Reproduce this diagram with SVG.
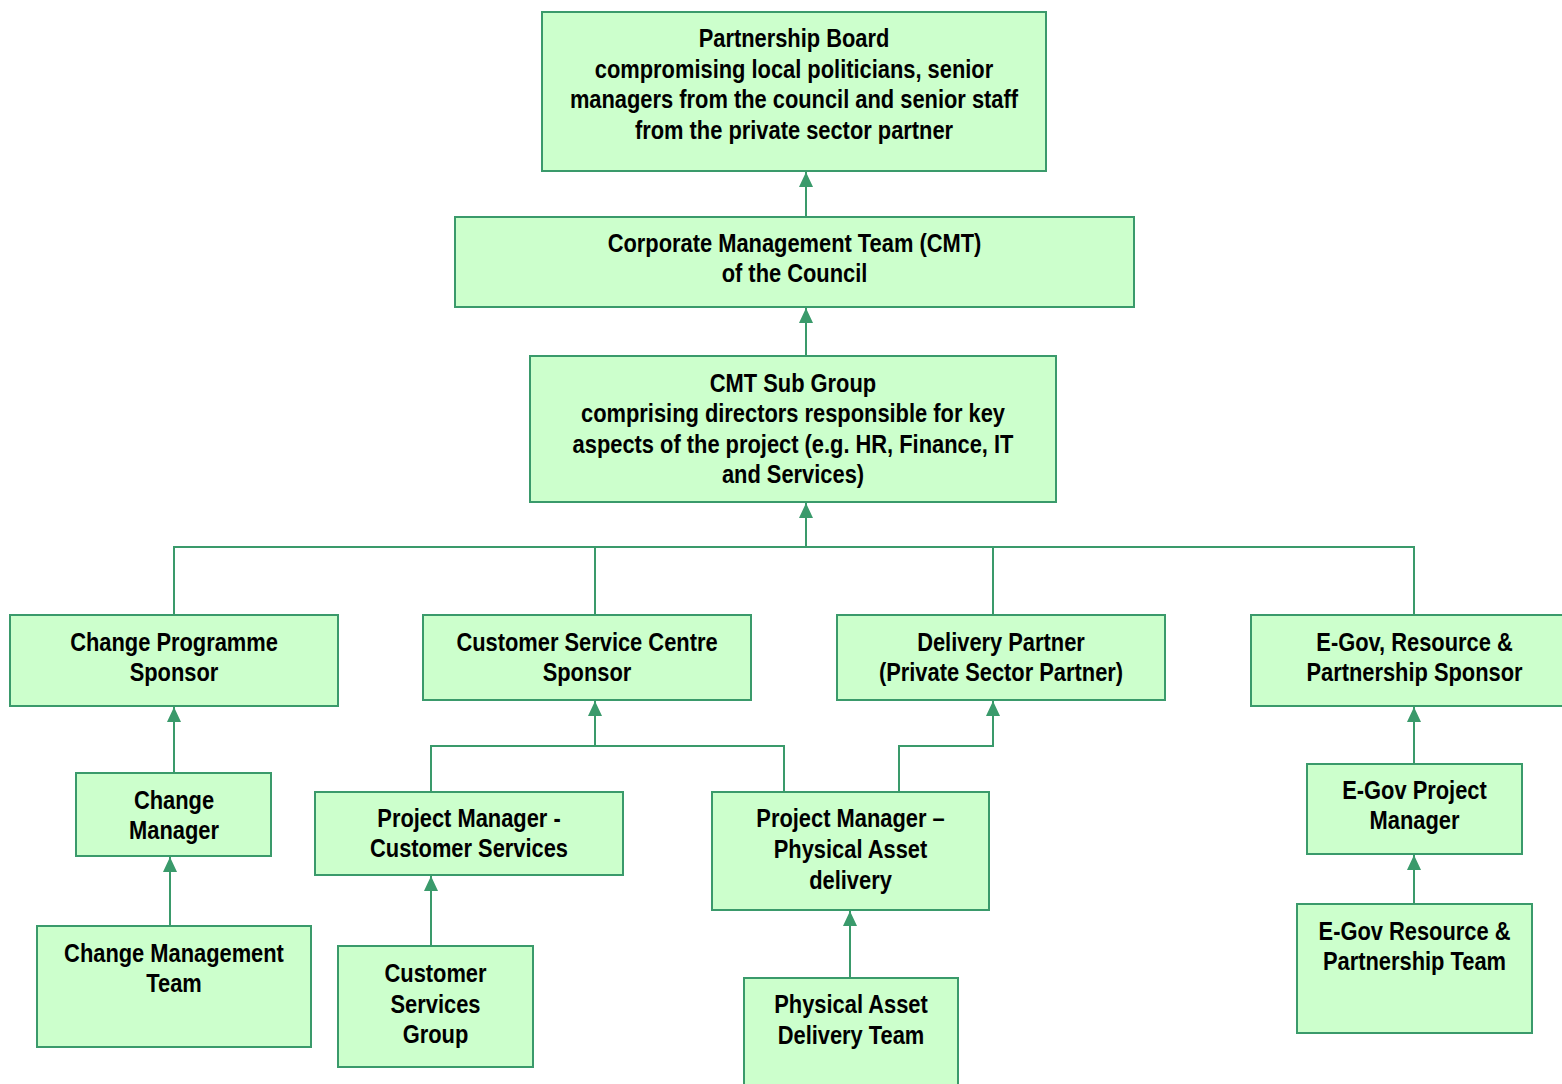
<svg xmlns="http://www.w3.org/2000/svg" width="1562" height="1084" viewBox="0 0 1562 1084">
<style>
.box{fill:#CCFFCC;stroke:#3A9A6B;stroke-width:2}
.t{font-family:"Liberation Sans",Arial,sans-serif;font-weight:bold;font-size:25px;fill:#000;text-anchor:middle}
.c{fill:none;stroke:#3A9A6B;stroke-width:2}
</style>
<defs>
<marker id="arr" markerUnits="userSpaceOnUse" markerWidth="16" markerHeight="14" refX="15" refY="7" orient="auto">
<path d="M0,0 L15,7 L0,14 z" fill="#3A9A6B"/>
</marker>
</defs>
<rect width="1562" height="1084" fill="#fff"/>
<g id="connectors">
<path class="c" d="M806,217 V172" marker-end="url(#arr)"/>
<path class="c" d="M806,356 V308" marker-end="url(#arr)"/>
<path class="c" d="M806,547 V503" marker-end="url(#arr)"/>
<path class="c" d="M174,615 V547 H1414 V615"/>
<path class="c" d="M595,547 V615"/>
<path class="c" d="M993,547 V615"/>
<path class="c" d="M174,773 V707" marker-end="url(#arr)"/>
<path class="c" d="M170,926 V857" marker-end="url(#arr)"/>
<path class="c" d="M431,792 V746 H784 V792"/>
<path class="c" d="M595,746 V701" marker-end="url(#arr)"/>
<path class="c" d="M899,792 V746 H993 V701" marker-end="url(#arr)"/>
<path class="c" d="M431,946 V876" marker-end="url(#arr)"/>
<path class="c" d="M850,978 V911" marker-end="url(#arr)"/>
<path class="c" d="M1414,764 V707" marker-end="url(#arr)"/>
<path class="c" d="M1414,904 V855" marker-end="url(#arr)"/>
</g>
<g id="partnership-board">
<rect class="box" x="542" y="12" width="504" height="159"/>
<text class="t" transform="translate(794,47) scale(.875,1)">Partnership Board</text>
<text class="t" transform="translate(794,78) scale(.875,1)">compromising local politicians, senior</text>
<text class="t" transform="translate(794,108) scale(.875,1)">managers from the council and senior staff</text>
<text class="t" transform="translate(794,139) scale(.875,1)">from the private sector partner</text>
</g>
<g id="cmt">
<rect class="box" x="455" y="217" width="679" height="90"/>
<text class="t" transform="translate(794.5,252) scale(.875,1)">Corporate Management Team (CMT)</text>
<text class="t" transform="translate(794.5,282) scale(.875,1)">of the Council</text>
</g>
<g id="cmt-sub-group">
<rect class="box" x="530" y="356" width="526" height="146"/>
<text class="t" transform="translate(793,392) scale(.875,1)">CMT Sub Group</text>
<text class="t" transform="translate(793,422) scale(.875,1)">comprising directors responsible for key</text>
<text class="t" transform="translate(793,453) scale(.875,1)">aspects of the project (e.g. HR, Finance, IT</text>
<text class="t" transform="translate(793,483) scale(.875,1)">and Services)</text>
</g>
<g id="change-programme-sponsor">
<rect class="box" x="10" y="615" width="328" height="91"/>
<text class="t" transform="translate(174,651) scale(.875,1)">Change Programme</text>
<text class="t" transform="translate(174,681) scale(.875,1)">Sponsor</text>
</g>
<g id="csc-sponsor">
<rect class="box" x="423" y="615" width="328" height="85"/>
<text class="t" transform="translate(587,651) scale(.875,1)">Customer Service Centre</text>
<text class="t" transform="translate(587,681) scale(.875,1)">Sponsor</text>
</g>
<g id="delivery-partner">
<rect class="box" x="837" y="615" width="328" height="85"/>
<text class="t" transform="translate(1001,651) scale(.875,1)">Delivery Partner</text>
<text class="t" transform="translate(1001,681) scale(.875,1)">(Private Sector Partner)</text>
</g>
<g id="egov-sponsor">
<rect class="box" x="1251" y="615" width="320" height="91"/>
<text class="t" transform="translate(1414.5,651) scale(.875,1)">E-Gov, Resource &amp;</text>
<text class="t" transform="translate(1414.5,681) scale(.875,1)">Partnership Sponsor</text>
</g>
<g id="change-manager">
<rect class="box" x="76" y="773" width="195" height="83"/>
<text class="t" transform="translate(174,809) scale(.875,1)">Change</text>
<text class="t" transform="translate(174,839) scale(.875,1)">Manager</text>
</g>
<g id="change-management-team">
<rect class="box" x="37" y="926" width="274" height="121"/>
<text class="t" transform="translate(174,962) scale(.875,1)">Change Management</text>
<text class="t" transform="translate(174,992) scale(.875,1)">Team</text>
</g>
<g id="pm-customer-services">
<rect class="box" x="315" y="792" width="308" height="83"/>
<text class="t" transform="translate(469,827) scale(.875,1)">Project Manager -</text>
<text class="t" transform="translate(469,857) scale(.875,1)">Customer Services</text>
</g>
<g id="customer-services-group">
<rect class="box" x="338" y="946" width="195" height="121"/>
<text class="t" transform="translate(435.5,982) scale(.875,1)">Customer</text>
<text class="t" transform="translate(435.5,1013) scale(.875,1)">Services</text>
<text class="t" transform="translate(435.5,1043) scale(.875,1)">Group</text>
</g>
<g id="pm-physical-asset">
<rect class="box" x="712" y="792" width="277" height="118"/>
<text class="t" transform="translate(850.5,827) scale(.875,1)">Project Manager –</text>
<text class="t" transform="translate(850.5,858) scale(.875,1)">Physical Asset</text>
<text class="t" transform="translate(850.5,889) scale(.875,1)">delivery</text>
</g>
<g id="physical-asset-delivery-team">
<rect class="box" x="744" y="978" width="214" height="120"/>
<text class="t" transform="translate(851,1013) scale(.875,1)">Physical Asset</text>
<text class="t" transform="translate(851,1044) scale(.875,1)">Delivery Team</text>
</g>
<g id="egov-project-manager">
<rect class="box" x="1307" y="764" width="215" height="90"/>
<text class="t" transform="translate(1414.5,799) scale(.875,1)">E-Gov Project</text>
<text class="t" transform="translate(1414.5,829) scale(.875,1)">Manager</text>
</g>
<g id="egov-resource-team">
<rect class="box" x="1297" y="904" width="235" height="129"/>
<text class="t" transform="translate(1414.5,940) scale(.875,1)">E-Gov Resource &amp;</text>
<text class="t" transform="translate(1414.5,970) scale(.875,1)">Partnership Team</text>
</g>
</svg>
